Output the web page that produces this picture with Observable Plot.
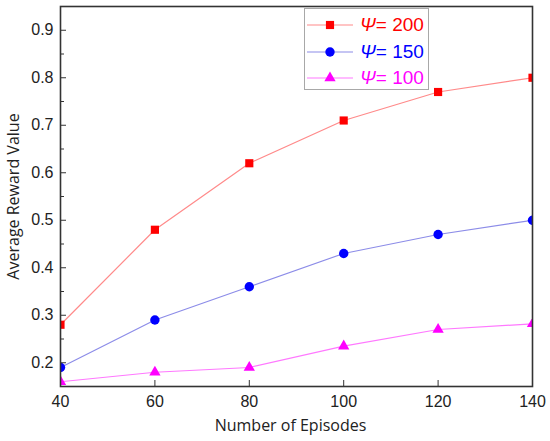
<!DOCTYPE html>
<html>
<head>
<meta charset="utf-8">
<script src="https://cdn.jsdelivr.net/npm/d3@7"></script>
<script src="https://cdn.jsdelivr.net/npm/@observablehq/plot@0.6"></script>
<style>
  html, body { margin: 0; padding: 0; background: #fff; }
  #wrap { position: relative; width: 550px; height: 441px; }
  #legend { position: absolute; left: 304px; top: 8px; width: 123px; height: 80px;
    border: 1px solid #a8a8a8; background: #fff; font-family: "Liberation Sans", Arial, sans-serif; }
  .row { position: absolute; left: 0; height: 26px; display: flex; align-items: center; }
  .row svg { display: block; }
  .row span { font-size: 19px; margin-left: 5px; white-space: nowrap; }
</style>
</head>
<body>
<div id="wrap"><div id="legend"></div></div>
<script>
const episodes = [40, 60, 80, 100, 120, 140];
const psi200 = [0.28, 0.48, 0.62, 0.71, 0.77, 0.80];
const psi150 = [0.19, 0.29, 0.36, 0.43, 0.47, 0.50];
const psi100 = [0.16, 0.18, 0.19, 0.235, 0.27, 0.282];
const seriesNames = ["200", "150", "100"];
const seriesValues = [psi200, psi150, psi100];
const markerColors = ["#ff0000", "#0000ff", "#ff00ff"];
const lineColors = ["#ff8a8a", "#8c8ce8", "#ff78ff"];
const symbols = ["square", "circle", "triangle"];
const symbolR = [4.6, 4.7, 4.2];
const xTicks = [40, 60, 80, 100, 120, 140];
const yTicks = [0.2, 0.3, 0.4, 0.5, 0.6, 0.7, 0.8, 0.9];
const yMinorTicks = [0.25, 0.35, 0.45, 0.55, 0.65, 0.75, 0.85];

const marks = [];
seriesValues.forEach((vals, i) => {
  const rows = episodes.map((e, j) => ({x: e, y: vals[j]}));
  marks.push(Plot.line(rows, {x: "x", y: "y", stroke: lineColors[i], strokeWidth: 1.2, clip: true}));
});
seriesValues.forEach((vals, i) => {
  const rows = episodes.map((e, j) => ({x: e, y: vals[j]}));
  marks.push(Plot.dot(rows, {x: "x", y: "y", symbol: symbols[i], r: symbolR[i], fill: markerColors[i], stroke: "none", clip: true}));
});

const chart = Plot.plot({
  width: 550,
  height: 441,
  marginLeft: 60,
  marginRight: 18,
  marginTop: 6,
  marginBottom: 55,
  style: {fontFamily: "'Liberation Sans', Arial, sans-serif", fontSize: "16px", color: "#222", background: "#fff"},
  x: {domain: [40, 140]},
  y: {domain: [0.15, 0.95]},
  marks: [
    ...marks,
    Plot.axisX({ticks: xTicks, tickSize: -6, text: null, stroke: "#333", label: null}),
    Plot.axisX({ticks: xTicks, tickSize: 0, tickPadding: 9, fontSize: 16, fill: "#222", label: null}),
    Plot.axisY({ticks: yTicks, tickSize: -6, text: null, stroke: "#333", label: null}),
    Plot.axisY({ticks: yMinorTicks, tickSize: -4, text: null, stroke: "#333", label: null}),
    Plot.axisY({ticks: yTicks, tickSize: 0, tickPadding: 7, tickFormat: ".1f", fontSize: 16, fill: "#222", label: null}),
    Plot.frame({stroke: "#333", strokeWidth: 1.6}),
    Plot.text(["Number of Episodes"], {frameAnchor: "bottom", textAnchor: "middle", dx: -6, dy: 44, fontSize: 16, fontFamily: "'Open Sans', sans-serif", fill: "#222"}),
    Plot.text(["Average Reward Value"], {frameAnchor: "left", textAnchor: "middle", rotate: -90, dx: -47, fontSize: 16, fontFamily: "'Open Sans', sans-serif", fill: "#222"})
  ]
});
document.getElementById("wrap").insertBefore(chart, document.getElementById("legend"));

const legend = document.getElementById("legend");
seriesNames.forEach((name, i) => {
  const row = document.createElement("div");
  row.className = "row";
  row.style.top = (3 + i * 26.5) + "px";
  const svg = d3.create("svg").attr("width", 50).attr("height", 26);
  svg.append("line").attr("x1", 2).attr("x2", 48).attr("y1", 13).attr("y2", 13)
    .attr("stroke", lineColors[i]).attr("stroke-width", 1.2);
  const symType = {square: d3.symbolSquare, circle: d3.symbolCircle, triangle: d3.symbolTriangle}[symbols[i]];
  svg.append("path").attr("transform", "translate(25,13)")
    .attr("d", d3.symbol(symType, symbolR[i] * symbolR[i] * Math.PI)())
    .attr("fill", markerColors[i]);
  row.appendChild(svg.node());
  const span = document.createElement("span");
  span.style.color = markerColors[i];
  span.innerHTML = '<i>Ψ</i>= ' + name;
  row.appendChild(span);
  legend.appendChild(row);
});
</script>
</body>
</html>
